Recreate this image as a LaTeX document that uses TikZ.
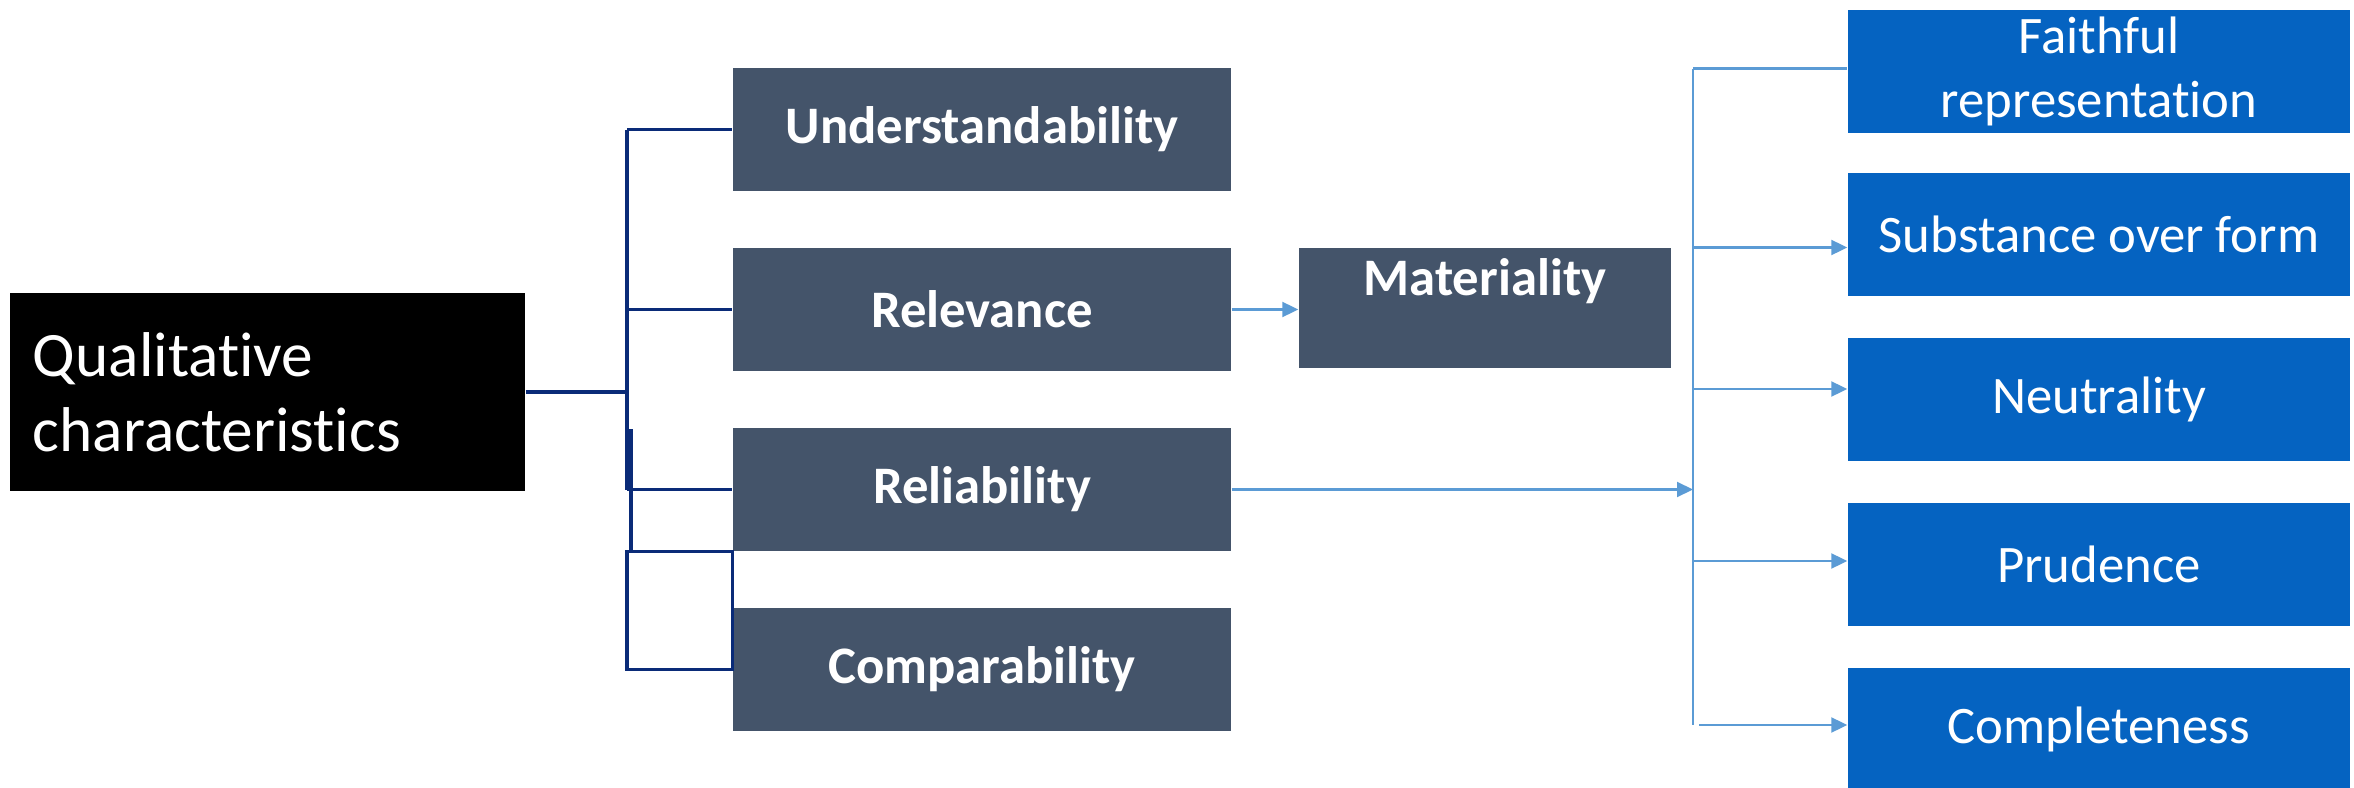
\documentclass[tikz,border=0pt]{standalone}
\usepackage{fontspec}
\setmainfont{Carlito}[Ligatures=NoCommon]
\usetikzlibrary{arrows.meta}

\definecolor{slate}{HTML}{44546A}
\definecolor{office}{HTML}{0563C1}
\definecolor{navy}{HTML}{0A2B78}
\definecolor{sky}{HTML}{5B9BD5}

\begin{document}
\begin{tikzpicture}[
  every node/.style={inner sep=0pt,text=white},
  rootbox/.style={fill=black,minimum width=5.15cm,minimum height=1.98cm,
    text width=4.69cm,inner xsep=0.23cm,align=left,
    font=\fontsize{18}{21.3}\selectfont},
  catbox/.style={fill=slate,minimum width=4.98cm,minimum height=1.23cm,
    font=\fontsize{15}{18}\selectfont\bfseries},
  subbox/.style={fill=office,minimum width=5.02cm,minimum height=1.23cm,
    align=center,font=\fontsize{15}{18.2}\selectfont},
  tree/.style={draw=navy,line width=1pt},
  bar/.style={draw=sky,line width=0.6pt},
  link/.style={bar,-{Triangle[length=0.16cm,width=0.15cm]}}
]
  \useasboundingbox (0,0) rectangle (23.54,-7.88);

  % Raíz
  \node[rootbox] (qual) at (2.675,-3.92) {Qualitative\\characteristics};

  % Características principales
  \node[catbox] (und)  at (9.82,-1.295) {Understandability};
  \node[catbox] (rel)  at (9.82,-3.095) {Relevance};
  \node[catbox] (reli) at (9.82,-4.895) {Reliability};
  \node[catbox] (comp) at (9.82,-6.695) {Comparability};
  \node[catbox,minimum width=3.72cm,minimum height=1.2cm,
        text height=0.47cm,text depth=0.73cm] (mat) at (14.85,-3.08) {Materiality};

  % Componentes de la fiabilidad
  \node[subbox] (faith) at (20.99,-0.71)  {Faithful\\representation};
  \node[subbox] (subst) at (20.99,-2.345) {Substance over form};
  \node[subbox] (neut)  at (20.99,-3.995) {Neutrality};
  \node[subbox] (prud)  at (20.99,-5.645) {Prudence};
  \node[subbox] (compl) at (20.99,-7.295) {Completeness};

  % Árbol desde la raíz
  \coordinate (split) at (6.27,-3.92);
  \coordinate (kink) at (6.31,-4.29);
  \draw[tree] (qual.east) -- (split);
  \draw[tree] (und.west -| split) -- (reli.west -| split);
  \foreach \to in {und, rel, reli}
    \draw[tree] (\to.west -| split) -- (\to.west);
  \draw[tree] (kink) -- (kink |- reli.south);
  \draw[tree] (split |- reli.south) rectangle (comp.west);

  % Barra de la derecha
  \coordinate (bus) at (16.93,-0.685);
  \coordinate (busend) at (16.93,-7.25);
  \draw[bar] (bus) -- (busend);
  \draw[bar] (bus) -- (bus -| faith.west);
  \draw[link] (rel.east) -- (rel.east -| mat.west);
  \draw[link] (reli.east) -- (reli.east -| bus);
  \foreach \to/\y in {subst/-2.475, neut/-3.89, prud/-5.61}
    \draw[link] (bus |- 0,\y) -- (\to.west |- 0,\y);
  \draw[link] ([xshift=0.06cm]busend) -- (busend -| compl.west);
\end{tikzpicture}
\end{document}
